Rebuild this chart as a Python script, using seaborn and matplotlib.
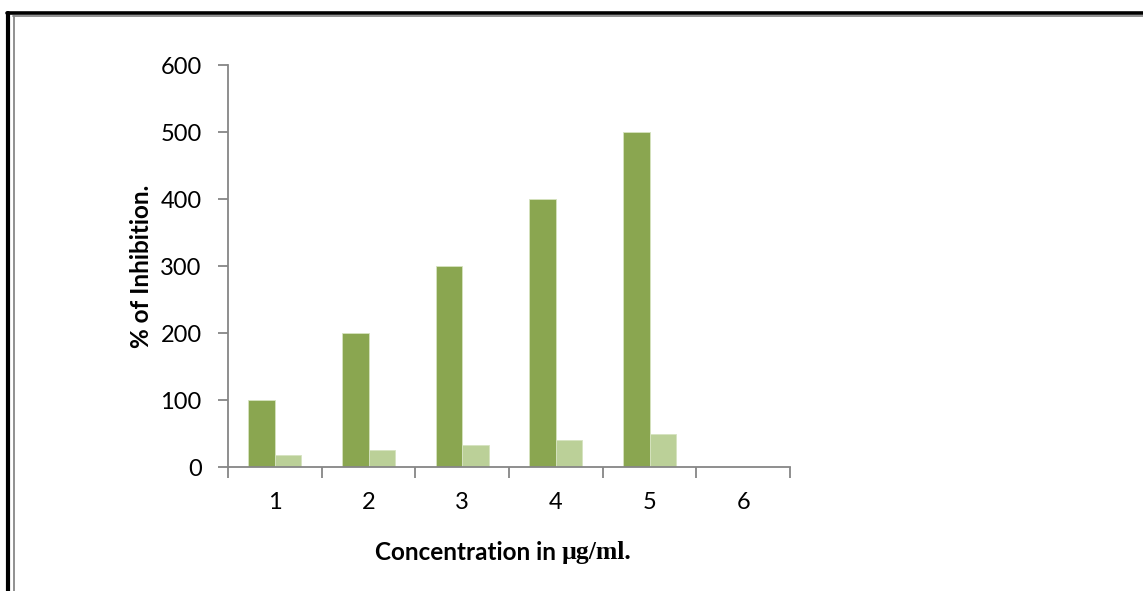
import pandas as pd
import matplotlib.pyplot as plt
import seaborn as sns
from matplotlib.lines import Line2D
from matplotlib.ticker import FixedLocator

# --- Data ---
concentrations = ["1", "2", "3", "4", "5", "6"]
series_a = [100, 200, 300, 400, 500, None]   # dark green
series_b = [18, 26, 33, 40, 49, None]        # light green
series_names = ["Series1", "Series2"]
y_ticks = [0, 100, 200, 300, 400, 500, 600]

df = pd.DataFrame({
    "conc": concentrations * 2,
    "value": series_a + series_b,
    "series": [series_names[0]] * 6 + [series_names[1]] * 6,
})

# --- Style ---
sns.set_theme(style="white")
plt.rcParams["font.family"] = ["Lato", "DejaVu Sans"]
axis_grey = "#868686"

fig = plt.figure(figsize=(11.43, 5.91), dpi=100)
ax = fig.add_axes([0.1995, 0.2098, 0.4917, 0.6802])

sns.barplot(data=df, x="conc", y="value", hue="series", order=concentrations,
            palette=["#8AA650", "#BBD098"], saturation=1, width=0.566, gap=0,
            edgecolor="#d6e3c0", linewidth=0.6, legend=False, ax=ax)

ax.set_xlim(-0.5, 5.5)
ax.set_ylim(0, 600)
ax.set_yticks(y_ticks)

# x ticks on the category boundaries, labels at the centres
ax.xaxis.set_major_locator(FixedLocator([i - 0.5 for i in range(7)]))
ax.xaxis.set_minor_locator(FixedLocator(list(range(6))))
ax.set_xticklabels([], minor=False)
ax.set_xticklabels(concentrations, minor=True)
ax.tick_params(axis="x", which="major", direction="out", length=8, width=1.3,
               color=axis_grey, bottom=True)
ax.tick_params(axis="x", which="minor", length=0, labelsize=17, pad=18,
               bottom=True, labelcolor="black")
ax.tick_params(axis="y", direction="out", length=7, width=1.3, color=axis_grey,
               left=True, labelsize=17, pad=12, labelcolor="black")

for side in ["top", "right"]:
    ax.spines[side].set_visible(False)
for side in ["left", "bottom"]:
    ax.spines[side].set_color(axis_grey)
    ax.spines[side].set_linewidth(1.3)

ax.set_ylabel("% of Inhibition.", fontsize=17.5, fontweight="bold", labelpad=5,
              color="black")
ax.set_xlabel("")

# x label: sans text followed by a serif unit, as in the original
t1 = fig.text(0.328, 0.052, "Concentration in ", fontsize=17.5, fontweight="bold",
              ha="left", va="baseline", color="black")
ax.annotate("\u00b5g/ml.", xy=(1, 0), xycoords=t1, fontsize=18.5, fontweight="bold",
            family="Liberation Serif", ha="left", va="bottom", color="black")

# frame of the original picture (top and left only)
fig.add_artist(Line2D([0.0061, 1], [0.9775, 0.9775], color="black", lw=2.6,
                      transform=fig.transFigure))
fig.add_artist(Line2D([0.0118, 1], [0.9735, 0.9735], color="#888888", lw=1.3,
                      transform=fig.transFigure))
fig.add_artist(Line2D([0.0070, 0.0070], [0, 0.978], color="black", lw=3.0,
                      transform=fig.transFigure))
fig.add_artist(Line2D([0.0120, 0.0120], [0, 0.9735], color="#888888", lw=1.3,
                      transform=fig.transFigure))

fig.savefig("out.png", dpi=100, facecolor="white")
